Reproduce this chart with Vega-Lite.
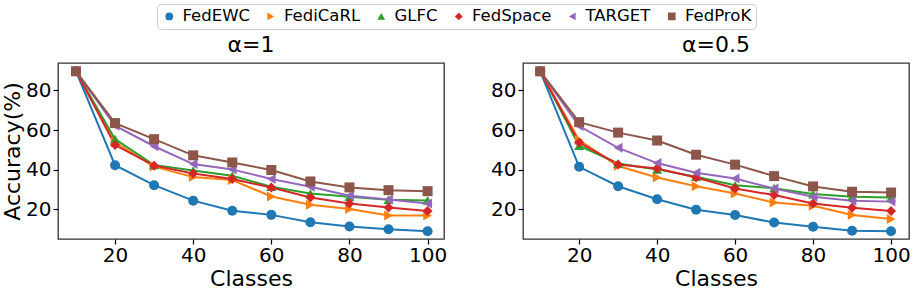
{
  "$schema": "https://vega.github.io/schema/vega-lite/v6.json",
  "padding": {"left": 0, "top": 3, "right": 2, "bottom": 0},
  "background": "white",
  "config": {
    "font": "DejaVu Sans",
    "view": {"stroke": "#333333", "strokeWidth": 1.3},
    "axis": {
      "grid": false, "domain": false, "tickColor": "black", "tickSize": 5, "tickWidth": 1.2,
      "labelFontSize": 20, "labelColor": "black", "labelPadding": 2,
      "titleFontSize": 22, "titleFontWeight": "normal", "titleColor": "black"
    },
    "axisX": {"labelPadding": 1},
    "title": {"fontSize": 22, "fontWeight": "normal", "color": "black", "offset": 6},
    "legend": {
      "orient": "none", "legendX": 99, "legendY": -59, "direction": "horizontal", "columns": 6,
      "labelFontSize": 16.5, "labelColor": "black", "symbolSize": 60, "symbolStrokeWidth": 0,
      "strokeColor": "#cccccc", "cornerRadius": 4, "padding": 4, "columnPadding": 12.5, "labelOffset": 5,
      "title": null
    }
  },
  "data": {"values": [
    {"panel": "a1", "method": "FedEWC", "classes": 10, "acc": 89.7},
    {"panel": "a1", "method": "FedEWC", "classes": 20, "acc": 42.2},
    {"panel": "a1", "method": "FedEWC", "classes": 30, "acc": 32.1},
    {"panel": "a1", "method": "FedEWC", "classes": 40, "acc": 24.3},
    {"panel": "a1", "method": "FedEWC", "classes": 50, "acc": 19.2},
    {"panel": "a1", "method": "FedEWC", "classes": 60, "acc": 17.1},
    {"panel": "a1", "method": "FedEWC", "classes": 70, "acc": 13.4},
    {"panel": "a1", "method": "FedEWC", "classes": 80, "acc": 11.2},
    {"panel": "a1", "method": "FedEWC", "classes": 90, "acc": 9.8},
    {"panel": "a1", "method": "FedEWC", "classes": 100, "acc": 8.8},
    {"panel": "a1", "method": "FediCaRL", "classes": 10, "acc": 89.7},
    {"panel": "a1", "method": "FediCaRL", "classes": 20, "acc": 53.9},
    {"panel": "a1", "method": "FediCaRL", "classes": 30, "acc": 41.5},
    {"panel": "a1", "method": "FediCaRL", "classes": 40, "acc": 36.2},
    {"panel": "a1", "method": "FediCaRL", "classes": 50, "acc": 34.7},
    {"panel": "a1", "method": "FediCaRL", "classes": 60, "acc": 26.4},
    {"panel": "a1", "method": "FediCaRL", "classes": 70, "acc": 22.2},
    {"panel": "a1", "method": "FediCaRL", "classes": 80, "acc": 20.1},
    {"panel": "a1", "method": "FediCaRL", "classes": 90, "acc": 16.8},
    {"panel": "a1", "method": "FediCaRL", "classes": 100, "acc": 16.8},
    {"panel": "a1", "method": "GLFC", "classes": 10, "acc": 89.7},
    {"panel": "a1", "method": "GLFC", "classes": 20, "acc": 55.4},
    {"panel": "a1", "method": "GLFC", "classes": 30, "acc": 42.3},
    {"panel": "a1", "method": "GLFC", "classes": 40, "acc": 39.5},
    {"panel": "a1", "method": "GLFC", "classes": 50, "acc": 36.9},
    {"panel": "a1", "method": "GLFC", "classes": 60, "acc": 31.3},
    {"panel": "a1", "method": "GLFC", "classes": 70, "acc": 27.9},
    {"panel": "a1", "method": "GLFC", "classes": 80, "acc": 26.3},
    {"panel": "a1", "method": "GLFC", "classes": 90, "acc": 24.8},
    {"panel": "a1", "method": "GLFC", "classes": 100, "acc": 24.4},
    {"panel": "a1", "method": "FedSpace", "classes": 10, "acc": 89.7},
    {"panel": "a1", "method": "FedSpace", "classes": 20, "acc": 52.4},
    {"panel": "a1", "method": "FedSpace", "classes": 30, "acc": 42.0},
    {"panel": "a1", "method": "FedSpace", "classes": 40, "acc": 38.0},
    {"panel": "a1", "method": "FedSpace", "classes": 50, "acc": 35.2},
    {"panel": "a1", "method": "FedSpace", "classes": 60, "acc": 30.9},
    {"panel": "a1", "method": "FedSpace", "classes": 70, "acc": 25.9},
    {"panel": "a1", "method": "FedSpace", "classes": 80, "acc": 22.8},
    {"panel": "a1", "method": "FedSpace", "classes": 90, "acc": 20.8},
    {"panel": "a1", "method": "FedSpace", "classes": 100, "acc": 19.0},
    {"panel": "a1", "method": "TARGET", "classes": 10, "acc": 89.7},
    {"panel": "a1", "method": "TARGET", "classes": 20, "acc": 62.2},
    {"panel": "a1", "method": "TARGET", "classes": 30, "acc": 51.8},
    {"panel": "a1", "method": "TARGET", "classes": 40, "acc": 42.8},
    {"panel": "a1", "method": "TARGET", "classes": 50, "acc": 40.1},
    {"panel": "a1", "method": "TARGET", "classes": 60, "acc": 35.2},
    {"panel": "a1", "method": "TARGET", "classes": 70, "acc": 31.3},
    {"panel": "a1", "method": "TARGET", "classes": 80, "acc": 26.8},
    {"panel": "a1", "method": "TARGET", "classes": 90, "acc": 24.9},
    {"panel": "a1", "method": "TARGET", "classes": 100, "acc": 22.8},
    {"panel": "a1", "method": "FedProK", "classes": 10, "acc": 89.7},
    {"panel": "a1", "method": "FedProK", "classes": 20, "acc": 63.5},
    {"panel": "a1", "method": "FedProK", "classes": 30, "acc": 55.4},
    {"panel": "a1", "method": "FedProK", "classes": 40, "acc": 47.2},
    {"panel": "a1", "method": "FedProK", "classes": 50, "acc": 43.6},
    {"panel": "a1", "method": "FedProK", "classes": 60, "acc": 39.8},
    {"panel": "a1", "method": "FedProK", "classes": 70, "acc": 34.0},
    {"panel": "a1", "method": "FedProK", "classes": 80, "acc": 31.0},
    {"panel": "a1", "method": "FedProK", "classes": 90, "acc": 29.6},
    {"panel": "a1", "method": "FedProK", "classes": 100, "acc": 29.1},
    {"panel": "a05", "method": "FedEWC", "classes": 10, "acc": 89.7},
    {"panel": "a05", "method": "FedEWC", "classes": 20, "acc": 41.4},
    {"panel": "a05", "method": "FedEWC", "classes": 30, "acc": 31.6},
    {"panel": "a05", "method": "FedEWC", "classes": 40, "acc": 25.0},
    {"panel": "a05", "method": "FedEWC", "classes": 50, "acc": 19.7},
    {"panel": "a05", "method": "FedEWC", "classes": 60, "acc": 17.0},
    {"panel": "a05", "method": "FedEWC", "classes": 70, "acc": 13.2},
    {"panel": "a05", "method": "FedEWC", "classes": 80, "acc": 11.1},
    {"panel": "a05", "method": "FedEWC", "classes": 90, "acc": 9.1},
    {"panel": "a05", "method": "FedEWC", "classes": 100, "acc": 8.8},
    {"panel": "a05", "method": "FediCaRL", "classes": 10, "acc": 89.7},
    {"panel": "a05", "method": "FediCaRL", "classes": 20, "acc": 54.9},
    {"panel": "a05", "method": "FediCaRL", "classes": 30, "acc": 41.8},
    {"panel": "a05", "method": "FediCaRL", "classes": 40, "acc": 36.0},
    {"panel": "a05", "method": "FediCaRL", "classes": 50, "acc": 31.6},
    {"panel": "a05", "method": "FediCaRL", "classes": 60, "acc": 27.9},
    {"panel": "a05", "method": "FediCaRL", "classes": 70, "acc": 23.3},
    {"panel": "a05", "method": "FediCaRL", "classes": 80, "acc": 21.7},
    {"panel": "a05", "method": "FediCaRL", "classes": 90, "acc": 17.0},
    {"panel": "a05", "method": "FediCaRL", "classes": 100, "acc": 15.0},
    {"panel": "a05", "method": "GLFC", "classes": 10, "acc": 89.7},
    {"panel": "a05", "method": "GLFC", "classes": 20, "acc": 52.1},
    {"panel": "a05", "method": "GLFC", "classes": 30, "acc": 43.1},
    {"panel": "a05", "method": "GLFC", "classes": 40, "acc": 40.1},
    {"panel": "a05", "method": "GLFC", "classes": 50, "acc": 36.4},
    {"panel": "a05", "method": "GLFC", "classes": 60, "acc": 32.1},
    {"panel": "a05", "method": "GLFC", "classes": 70, "acc": 30.6},
    {"panel": "a05", "method": "GLFC", "classes": 80, "acc": 27.6},
    {"panel": "a05", "method": "GLFC", "classes": 90, "acc": 26.3},
    {"panel": "a05", "method": "GLFC", "classes": 100, "acc": 25.9},
    {"panel": "a05", "method": "FedSpace", "classes": 10, "acc": 89.7},
    {"panel": "a05", "method": "FedSpace", "classes": 20, "acc": 53.7},
    {"panel": "a05", "method": "FedSpace", "classes": 30, "acc": 42.6},
    {"panel": "a05", "method": "FedSpace", "classes": 40, "acc": 40.5},
    {"panel": "a05", "method": "FedSpace", "classes": 50, "acc": 36.0},
    {"panel": "a05", "method": "FedSpace", "classes": 60, "acc": 30.4},
    {"panel": "a05", "method": "FedSpace", "classes": 70, "acc": 27.1},
    {"panel": "a05", "method": "FedSpace", "classes": 80, "acc": 22.8},
    {"panel": "a05", "method": "FedSpace", "classes": 90, "acc": 20.7},
    {"panel": "a05", "method": "FedSpace", "classes": 100, "acc": 19.0},
    {"panel": "a05", "method": "TARGET", "classes": 10, "acc": 89.7},
    {"panel": "a05", "method": "TARGET", "classes": 20, "acc": 62.0},
    {"panel": "a05", "method": "TARGET", "classes": 30, "acc": 51.0},
    {"panel": "a05", "method": "TARGET", "classes": 40, "acc": 43.3},
    {"panel": "a05", "method": "TARGET", "classes": 50, "acc": 38.4},
    {"panel": "a05", "method": "TARGET", "classes": 60, "acc": 35.5},
    {"panel": "a05", "method": "TARGET", "classes": 70, "acc": 30.4},
    {"panel": "a05", "method": "TARGET", "classes": 80, "acc": 26.3},
    {"panel": "a05", "method": "TARGET", "classes": 90, "acc": 24.3},
    {"panel": "a05", "method": "TARGET", "classes": 100, "acc": 23.8},
    {"panel": "a05", "method": "FedProK", "classes": 10, "acc": 89.7},
    {"panel": "a05", "method": "FedProK", "classes": 20, "acc": 64.0},
    {"panel": "a05", "method": "FedProK", "classes": 30, "acc": 58.7},
    {"panel": "a05", "method": "FedProK", "classes": 40, "acc": 54.7},
    {"panel": "a05", "method": "FedProK", "classes": 50, "acc": 47.5},
    {"panel": "a05", "method": "FedProK", "classes": 60, "acc": 42.5},
    {"panel": "a05", "method": "FedProK", "classes": 70, "acc": 36.7},
    {"panel": "a05", "method": "FedProK", "classes": 80, "acc": 31.5},
    {"panel": "a05", "method": "FedProK", "classes": 90, "acc": 28.8},
    {"panel": "a05", "method": "FedProK", "classes": 100, "acc": 28.4}
  ]},
  "spacing": 41,
  "hconcat": [
    {
      "width": 386, "height": 176,
      "title": "α=1",
      "transform": [{"filter": "datum.panel == 'a1'"}],
      "encoding": {
        "x": {"field": "classes", "type": "quantitative", "scale": {"domain": [5.4, 104.2], "nice": false, "zero": false}, "axis": {"values": [20, 40, 60, 80, 100], "title": "Classes", "titlePadding": 3}},
        "y": {"field": "acc", "type": "quantitative", "scale": {"domain": [4.9, 93.9], "nice": false, "zero": false}, "axis": {"values": [20, 40, 60, 80], "title": "Accuracy(%)", "titlePadding": 1}},
        "color": {"field": "method", "type": "nominal", "scale": {"domain": ["FedEWC", "FediCaRL", "GLFC", "FedSpace", "TARGET", "FedProK"], "range": ["#1f77b4", "#ff7f0e", "#2ca02c", "#d62728", "#9467bd", "#8c564b"]}}
      },
      "layer": [
        {"mark": {"type": "line", "strokeWidth": 2}},
        {"mark": {"type": "point", "filled": true, "size": 100, "opacity": 1},
         "encoding": {"shape": {"field": "method", "type": "nominal", "scale": {"domain": ["FedEWC", "FediCaRL", "GLFC", "FedSpace", "TARGET", "FedProK"], "range": ["circle", "triangle-right", "triangle-up", "diamond", "triangle-left", "square"]}}}}
      ]
    },
    {
      "width": 386, "height": 176,
      "title": "α=0.5",
      "transform": [{"filter": "datum.panel == 'a05'"}],
      "encoding": {
        "x": {"field": "classes", "type": "quantitative", "scale": {"domain": [5.6, 104.6], "nice": false, "zero": false}, "axis": {"values": [20, 40, 60, 80, 100], "title": "Classes", "titlePadding": 3}},
        "y": {"field": "acc", "type": "quantitative", "scale": {"domain": [4.9, 93.9], "nice": false, "zero": false}, "axis": {"values": [20, 40, 60, 80], "title": null}},
        "color": {"field": "method", "type": "nominal", "scale": {"domain": ["FedEWC", "FediCaRL", "GLFC", "FedSpace", "TARGET", "FedProK"], "range": ["#1f77b4", "#ff7f0e", "#2ca02c", "#d62728", "#9467bd", "#8c564b"]}}
      },
      "layer": [
        {"mark": {"type": "line", "strokeWidth": 2}},
        {"mark": {"type": "point", "filled": true, "size": 100, "opacity": 1},
         "encoding": {"shape": {"field": "method", "type": "nominal", "scale": {"domain": ["FedEWC", "FediCaRL", "GLFC", "FedSpace", "TARGET", "FedProK"], "range": ["circle", "triangle-right", "triangle-up", "diamond", "triangle-left", "square"]}}}}
      ]
    }
  ]
}
